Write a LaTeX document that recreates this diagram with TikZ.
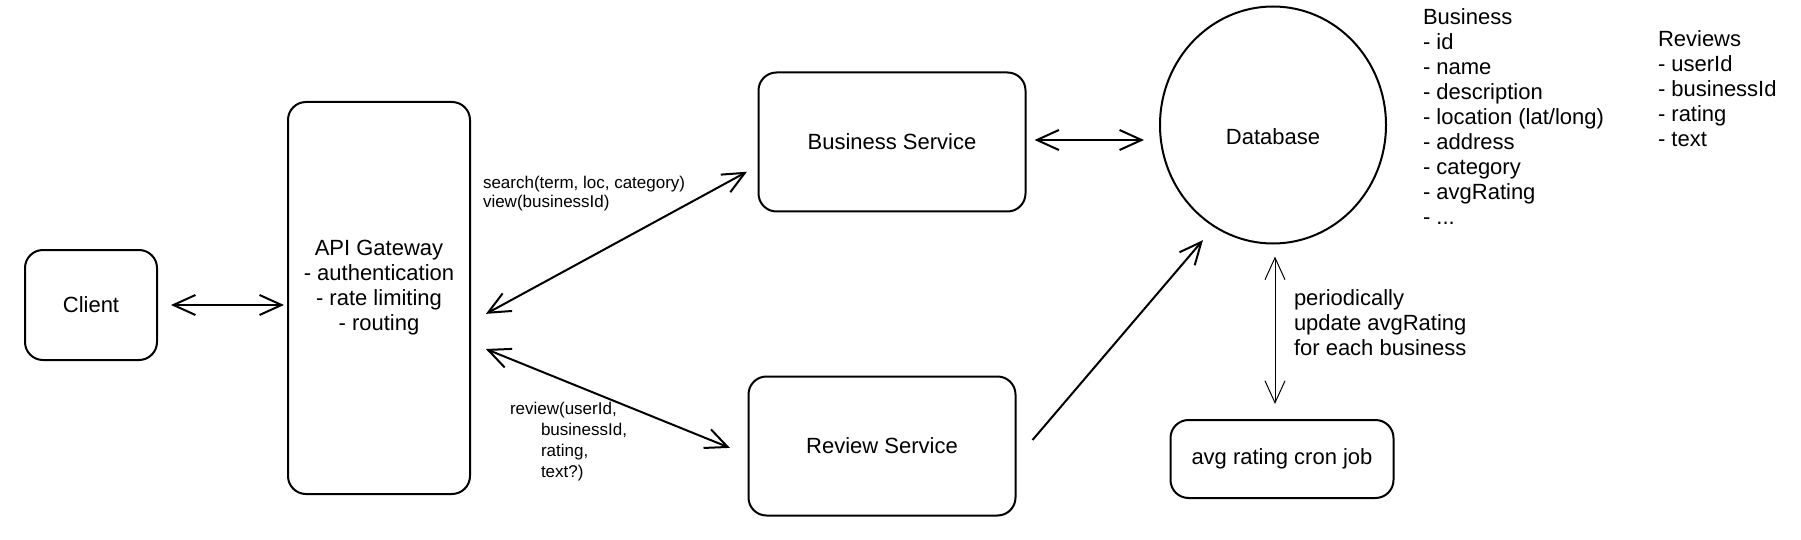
\documentclass[tikz,border=0pt]{standalone}
\usepackage{fontspec}
\setmainfont{Liberation Sans}
\usetikzlibrary{arrows.meta, positioning, calc, shapes.geometric}

\begin{document}
\begin{tikzpicture}[x=0.5pt, y=-0.5pt, line width=1pt,
    >={Straight Barb[length=11pt, width=10pt]},
    svc/.style={draw, rounded corners=9pt, align=center,
                font=\fontsize{11}{12.5}\selectfont},
    note/.style={align=left, anchor=west, inner sep=0pt,
                 font=\fontsize{11}{12.5}\selectfont},
    call/.style={align=left, anchor=west, inner sep=0pt,
                 font=\fontsize{8.5}{9.5}\selectfont}]
  \useasboundingbox (0,0) rectangle (1801,540);

  % services
  \node[svc, minimum width=66pt, minimum height=55pt] (client) at (91,305) {Client};
  \node[svc, minimum width=91pt, minimum height=196pt] (gateway) at (379,298)
        {API Gateway\\- authentication\\- rate limiting\\- routing\\\mbox{}};
  \node[svc, minimum width=133.5pt, minimum height=69.5pt] (business) at (892,142) {Business Service};
  \node[svc, minimum width=133.5pt, minimum height=69.5pt] (review) at (882,446) {Review Service};
  \node[draw, ellipse, inner sep=0pt, minimum width=113pt, minimum height=118.5pt, align=center,
        font=\fontsize{11}{12.5}\selectfont] (database) at (1273,125) {\mbox{}\\[7pt]Database};
  \node[svc, minimum width=111.5pt, minimum height=39pt] (cron) at (1282,459) {avg rating cron job};

  % schema notes
  \node[note] (bizfields) at (1422,117)
        {Business\\- id\\- name\\- description\\- location (lat/long)\\- address\\- category\\- avgRating\\- ...};
  \node[note] (reviewfields) at (1657,89)
        {Reviews\\- userId\\- businessId\\- rating\\- text};
  \node[note] (cronlbl) at (1293,323)
        {periodically\\update avgRating\\for each business};

  % calls
  \node[call] (searchlbl) at (482,194) {search(term, loc, category)\\view(businessId)};
  \node[call, font=\fontsize{8.5}{10.5}\selectfont] (reviewlbl) at (509,442)
        {review(userId,\\\hspace*{15.5pt}businessId,\\\hspace*{15.5pt}rating,\\\hspace*{15.5pt}text?)};

  % connectors
  \draw[<->, shorten <=6.5pt, shorten >=1.5pt] (client.east) -- (client.east -| gateway.west);
  \draw[<->, shorten <=8.5pt, shorten >=6pt] ([yshift=-12pt]gateway.east) -- ([yshift=-12pt]business.west);
  \draw[<->, shorten <=8pt, shorten >=9.5pt] ([yshift=-22.5pt]gateway.east) -- ([yshift=-4.5pt]review.west);
  \draw[<->, shorten <=4pt, shorten >=7.5pt] ([yshift=1pt]business.east) -- ([yshift=1pt]business.east -| database.west);
  \draw[->, shorten >=8.5pt] ([xshift=8pt, yshift=3pt]review.east) -- (database.240);
  \draw[<->, line width=0.5pt, shorten <=6pt, shorten >=7.5pt]
        ([xshift=1pt]database.south) -- ([xshift=1pt]database.south |- cron.north);
\end{tikzpicture}
\end{document}
